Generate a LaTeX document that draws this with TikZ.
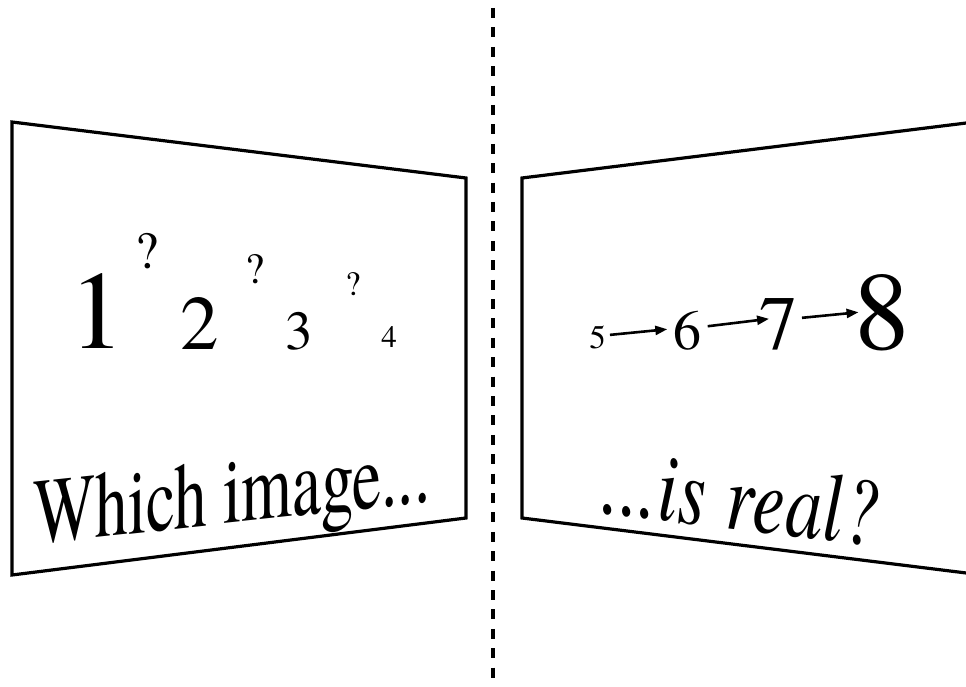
\documentclass[tikz,border=0pt]{standalone}
\usepackage{fontspec}
\setmainfont{texgyretermes}[Extension=.otf,UprightFont=*-regular,ItalicFont=*-italic,BoldFont=*-bold]
\usetikzlibrary{arrows.meta}
\newcommand{\sz}[1]{\fontsize{#1}{#1}\selectfont}

\begin{document}
\begin{tikzpicture}[x=1pt,y=-1pt,every node/.style={inner sep=0pt,anchor=base},
    panel/.style={line width=3.2pt,line join=miter},
    divider/.style={line width=3.2pt,dash pattern=on 10pt off 9.4pt},
    numarrow/.style={line width=2.6pt,-{Triangle[length=12pt,width=9pt]}},
    caption/.style={transform shape}]
  \useasboundingbox (0,0) rectangle (966,687);
  \draw[divider] (493,8) -- (493,690);
  \draw[panel] (12,122) -- (466,178) -- (466,518) -- (12,575) -- cycle;
  \draw[panel] (980,121.3) -- (522,178) -- (522,518) -- (980,574.7);
  % left screen
  \node[font=\sz{111}] (n1) at (97,348) {1};
  \node[font=\sz{52}] (q1) at (147,268) {?};
  \node[font=\sz{77}] (n2) at (200,349) {2};
  \node[font=\sz{43}] (q2) at (255.5,283) {?};
  \node[font=\sz{55}] (n3) at (299.5,349) {3};
  \node[font=\sz{34}] (q3) at (353,295) {?};
  \node[font=\sz{31}] (n4) at (389,347) {4};
  \node[caption,yslant=0.107,xscale=0.695,font=\sz{94}] (which) at (232,523) {Which image...};
  % right screen
  \node[font=\sz{33}] (n5) at (597.5,348) {5};
  \node[font=\sz{56}] (n6) at (687.5,349) {6};
  \node[font=\sz{77}] (n7) at (778.5,349) {7};
  \node[font=\sz{111}] (n8) at (882.5,349) {8};
  \draw[numarrow] ([xshift=4pt,yshift=2pt]n5.east) -- ([xshift=-6pt,yshift=1pt]n6.west);
  \draw[numarrow] ([xshift=6pt,yshift=4pt]n6.east) -- ([xshift=10pt,yshift=5pt]n7.west);
  \draw[numarrow] ([xshift=4pt,yshift=6pt]n7.east) -- ([xshift=4pt]n8.west);
  \node[caption,yslant=-0.12,xscale=0.76,font=\sz{98}\itshape] (real) at (741,530) {...is real?};
\end{tikzpicture}
\end{document}
